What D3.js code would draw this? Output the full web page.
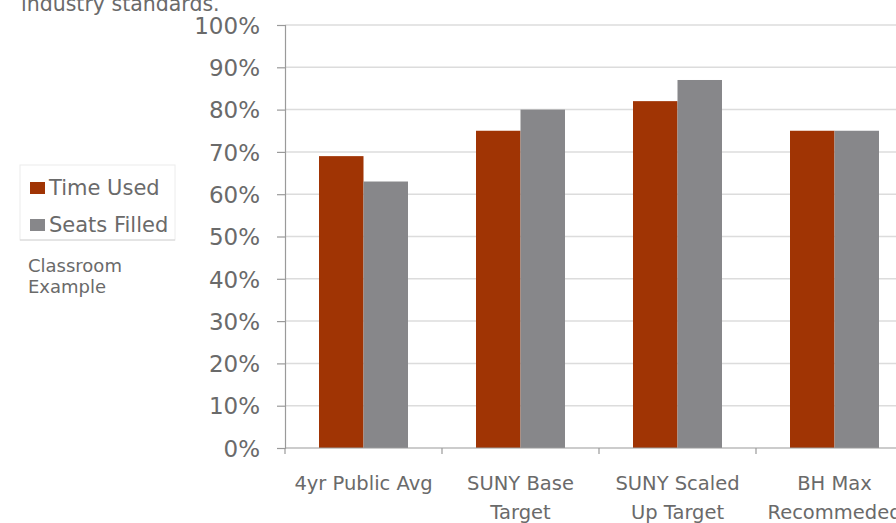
<!DOCTYPE html>
<html>
<head>
<meta charset="utf-8">
<script src="https://cdn.jsdelivr.net/npm/d3@7"></script>
<style>
  html, body { margin: 0; padding: 0; background: #ffffff; }
  svg { display: block; }
  text { font-family: "DejaVu Sans", "Noto Sans", sans-serif; fill: #6a6a6a; }
</style>
</head>
<body>
<svg id="chart" width="896" height="523"></svg>
<script>
const categories = ["4yr Public Avg", "SUNY Base Target", "SUNY Scaled Up Target", "BH Max Recommeded"];
const categoryLines = [["4yr Public Avg"], ["SUNY Base", "Target"], ["SUNY Scaled", "Up Target"], ["BH Max", "Recommeded"]];
const seriesNames = ["Time Used", "Seats Filled"];
const timeUsed = [0.69, 0.75, 0.82, 0.75];
const seatsFilled = [0.63, 0.80, 0.87, 0.75];
const yTicks = [0, 0.1, 0.2, 0.3, 0.4, 0.5, 0.6, 0.7, 0.8, 0.9, 1.0];
const seriesColors = ["#a03404", "#87878a"];
const titleText = "industry standards.";
const noteLines = ["Classroom", "Example"];

const svg = d3.select("#chart");
const plotLeft = 285, plotRight = 913, plotTop = 25, plotBottom = 448;

const y = d3.scaleLinear().domain([0, 1]).range([plotBottom, plotTop]);
const x = d3.scaleBand().domain(categories).range([plotLeft, plotRight]).paddingInner(0).paddingOuter(0);
const x1 = d3.scaleBand().domain(seriesNames).range([0, x.bandwidth()]).paddingInner(0).paddingOuter(0.764);

// title (cut off at top)
svg.append("text").attr("x", 21).attr("y", 10.5).style("font-size", "20.5px").text(titleText);

// gridlines
svg.append("g").selectAll("line").data(yTicks.filter(d => d > 0)).join("line")
  .attr("x1", plotLeft).attr("x2", 896)
  .attr("y1", d => y(d)).attr("y2", d => y(d))
  .attr("stroke", "#dcdcdc").attr("stroke-width", 1.5);

// y axis
const yAxis = d3.axisLeft(y).tickValues(yTicks).tickFormat(d3.format(".0%")).tickSize(8).tickPadding(17);
const yg = svg.append("g").attr("transform", `translate(${plotLeft},0)`).call(yAxis);
yg.select(".domain").attr("stroke", "#9a9a9a").attr("stroke-width", 1.2);
yg.selectAll(".tick line").attr("stroke", "#9a9a9a").attr("stroke-width", 1.2);
yg.selectAll(".tick text").style("font-family", "'DejaVu Sans', sans-serif")
  .style("font-size", "23px").attr("fill", "#666").attr("dy", "0.36em");

// bars
const data = categories.map((c, i) => ({ cat: c, vals: [timeUsed[i], seatsFilled[i]] }));
const groups = svg.append("g").selectAll("g").data(data).join("g")
  .attr("transform", d => `translate(${x(d.cat)},0)`);
groups.selectAll("rect").data(d => d.vals.map((v, j) => ({ s: seriesNames[j], v, j }))).join("rect")
  .attr("x", d => x1(d.s)).attr("width", x1.bandwidth())
  .attr("y", d => y(d.v)).attr("height", d => y(0) - y(d.v))
  .attr("fill", d => seriesColors[d.j]);

// x axis line
svg.append("line").attr("x1", plotLeft).attr("x2", 896).attr("y1", y(0)).attr("y2", y(0))
  .attr("stroke", "#9a9a9a").attr("stroke-width", 1.2);
// category boundary ticks
svg.append("g").selectAll("line").data(categories).join("line")
  .attr("x1", d => x(d)).attr("x2", d => x(d))
  .attr("y1", y(0)).attr("y2", y(0) + 6)
  .attr("stroke", "#9a9a9a").attr("stroke-width", 1.2);

// x labels
const xl = svg.append("g").selectAll("text").data(categories).join("text")
  .attr("text-anchor", "middle")
  .attr("x", d => x(d) + x.bandwidth() / 2)
  .attr("y", 490)
  .style("font-size", "19.5px");
xl.selectAll("tspan").data((d, i) => categoryLines[i]).join("tspan")
  .attr("x", function () { return d3.select(this.parentNode).attr("x"); })
  .attr("dy", (d, i) => i === 0 ? 0 : 29)
  .text(d => d);

// legend
const lg = svg.append("g");
lg.append("rect").attr("x", 20).attr("y", 165).attr("width", 155).attr("height", 75)
  .attr("fill", "none").attr("stroke", "#ececec").attr("stroke-width", 1);
lg.append("line").attr("x1", 20).attr("x2", 175).attr("y1", 240).attr("y2", 240)
  .attr("stroke", "#d4d4d4").attr("stroke-width", 1.2);
const items = lg.selectAll("g.item").data(seriesNames).join("g").attr("class", "item")
  .attr("transform", (d, i) => `translate(0,${i * 37})`);
items.append("rect").attr("x", 30).attr("y", 182).attr("width", 15).attr("height", 12)
  .attr("fill", (d, i) => seriesColors[i]);
items.append("text").attr("x", 49).attr("y", 195).style("font-size", "21px").text(d => d);

svg.append("g").selectAll("text").data(noteLines).join("text")
  .attr("x", 28).attr("y", (d, i) => 272 + i * 21).style("font-size", "18px").text(d => d);
</script>
</body>
</html>
